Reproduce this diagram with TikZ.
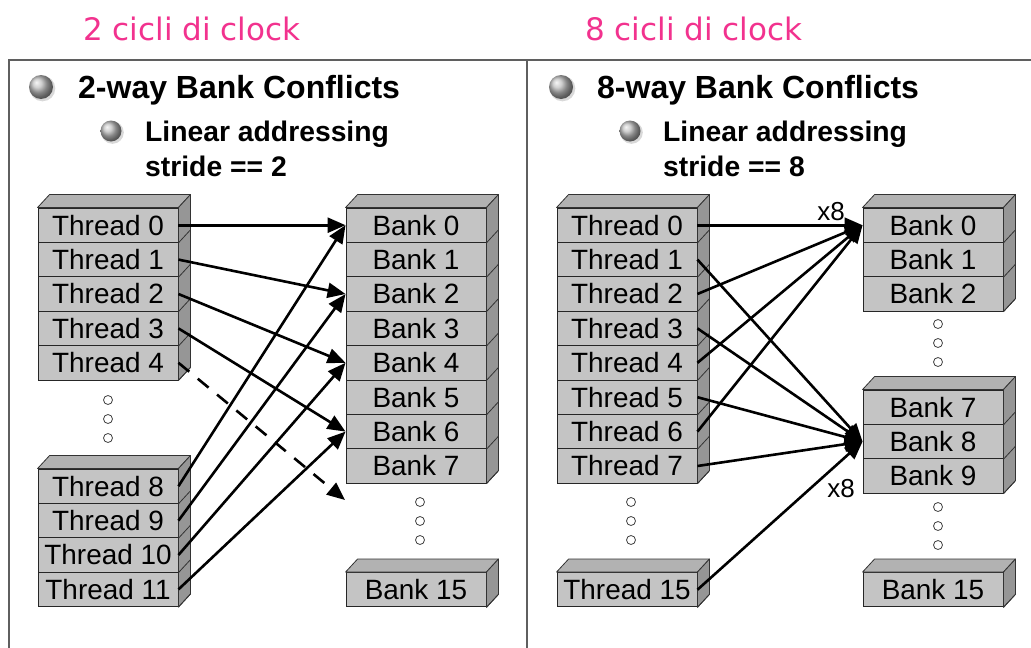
\documentclass[tikz,border=0pt]{standalone}
\usepackage{fontspec}
\setmainfont{Liberation Sans}
\newfontfamily\clockfont{DejaVu Sans}
\usetikzlibrary{arrows.meta,calc,shadings}

\definecolor{cellgray}{RGB}{196,196,196}
\definecolor{topgray}{RGB}{178,178,178}
\definecolor{sidegray}{RGB}{150,150,150}
\definecolor{framegray}{RGB}{95,95,95}
\definecolor{clockpink}{RGB}{242,50,142}

\tikzset{
  cell/.style={draw=black!85, line width=0.9pt, fill=cellgray,
    minimum width=140pt, minimum height=34.4pt, inner sep=0pt,
    font=\fontsize{27.9}{30}\selectfont},
  face/.style={draw=black!80, line width=0.8pt, line join=round},
  link/.style={line width=2.6pt, -{Triangle[length=18pt,width=15pt]}},
  dotmark/.style={draw=black!75, line width=0.8pt, fill=white},
  headline/.style={font=\fontsize{32}{35}\selectfont\bfseries, inner sep=0pt},
  subline/.style={font=\fontsize{28.3}{31}\selectfont\bfseries, inner sep=0pt},
  clocklabel/.style={font=\fontsize{31}{34}\clockfont, text=clockpink, inner sep=0pt},
  timeslabel/.style={font=\fontsize{26}{28}\selectfont, inner sep=0pt},
}

% A 3-D stack of cells: #1 name prefix, #2 label word, #3 indices,
% #4 x centre, #5 y of top edge, #6 first index, #7 last index
\newcommand\cellstack[7]{%
  \foreach \k [count=\c from 0] in {#3} {
    \node[cell] (#1\k) at (#4, #5+17.2+34.4*\c) {#2 \k};
  }
  \filldraw[face, fill=topgray] (#1#6.north west) -- ++(12,-13)
    -- ($(#1#6.north east)+(12,-13)$) -- (#1#6.north east) -- cycle;
  \filldraw[face, fill=sidegray] (#1#6.north east) -- ++(12,-13)
    -- ($(#1#7.south east)+(12,-13)$) -- (#1#7.south east) -- cycle;
  \foreach \k in {#3} {
    \draw[face] (#1\k.south east) -- ++(12,-13);
  }
}

\newcommand\dotcol[4]{% #1 name, #2 x, #3 first y, #4 step
  \foreach \j in {0,1,2} {
    \filldraw[dotmark] (#2, #3+#4*\j) circle (4.5);
  }
  \coordinate (#1) at (#2,#3);
}

\newcommand\orb[3]{% #1 x, #2 y, #3 radius
  \fill[black!25, opacity=0.6] (#1+1.5, #2+1.5) circle (#3+0.8);
  \shade[ball color=gray!50] (#1,#2) circle (#3);
}

\begin{document}
\begin{tikzpicture}[x=1pt, y=-1pt]
\useasboundingbox (0,0) rectangle (1031,648);

% clock-cycle captions
\node[clocklabel, anchor=base west] (clkL) at (83,40) {2 cicli di clock};
\node[clocklabel, anchor=base west] (clkR) at (585,40) {8 cicli di clock};

% frame of the two panels
\draw[framegray, line width=1.5pt] (9,648) -- (9,60) -- (1031,60);
\draw[framegray, line width=1.5pt] (527,60) -- (527,648);

% ---------------- left panel: 2-way ----------------
\orb{41}{87}{12}
\node[headline, anchor=base west] (headL) at (78,98) {2-way Bank Conflicts};
\orb{111}{131}{10.5}
\node[subline, anchor=base west] (linL) at (145,141) {Linear addressing};
\node[subline, anchor=base west] (strL) at (145,176) {stride == 2};

\cellstack{lt}{Thread}{0,1,2,3,4}{108}{208}{0}{4}
\cellstack{lu}{Thread}{8,9,10,11}{108}{469}{8}{11}
\cellstack{lb}{Bank}{0,1,2,3,4,5,6,7}{416}{208}{0}{7}
\cellstack{lc}{Bank}{15}{416}{572.5}{15}{15}

\dotcol{ldotsT}{108}{400}{19}
\dotcol{ldotsB}{420}{502}{19}

\coordinate (lb8) at (345,500);

\draw[link] (lt0.east) -- (lb0.west);
\draw[link] (lt1.east) -- (lb2.west);
\draw[link] (lt2.east) -- (lb4.west);
\draw[link] (lt3.east) -- (lb6.west);
\draw[link, dash pattern=on 14pt off 11pt] (lt4.east) -- (lb8);
\draw[link] (lu8.east) -- (lb0.west);
\draw[link] (lu9.east) -- (lb2.west);
\draw[link] (lu10.east) -- (lb4.west);
\draw[link] (lu11.east) -- (lb6.west);

% ---------------- right panel: 8-way ----------------
\orb{561}{87}{12}
\node[headline, anchor=base west] (headR) at (597,98) {8-way Bank Conflicts};
\orb{630}{131}{10.5}
\node[subline, anchor=base west] (linR) at (663,141) {Linear addressing};
\node[subline, anchor=base west] (strR) at (663,176) {stride == 8};

\cellstack{rt}{Thread}{0,1,2,3,4,5,6,7}{627}{208}{0}{7}
\cellstack{ru}{Thread}{15}{627}{572.5}{15}{15}
\cellstack{rb}{Bank}{0,1,2}{933}{208}{0}{2}
\cellstack{rc}{Bank}{7,8,9}{933}{390}{7}{9}
\cellstack{rd}{Bank}{15}{933}{572.5}{15}{15}

\dotcol{rdotsT}{631}{502}{19}
\dotcol{rdotsA}{938}{324}{19}
\dotcol{rdotsB}{938}{507}{19}

\foreach \t in {0,2,4,6} {
  \draw[link] (rt\t.east) -- (rb0.west);
}
\foreach \t in {1,3,5,7} {
  \draw[link] (rt\t.east) -- (rc8.west);
}
\draw[link] (ru15.east) -- (rc8.west);

\node[timeslabel] (xA) at (831,212) {x8};
\node[timeslabel] (xB) at (841,489) {x8};
\end{tikzpicture}
\end{document}
